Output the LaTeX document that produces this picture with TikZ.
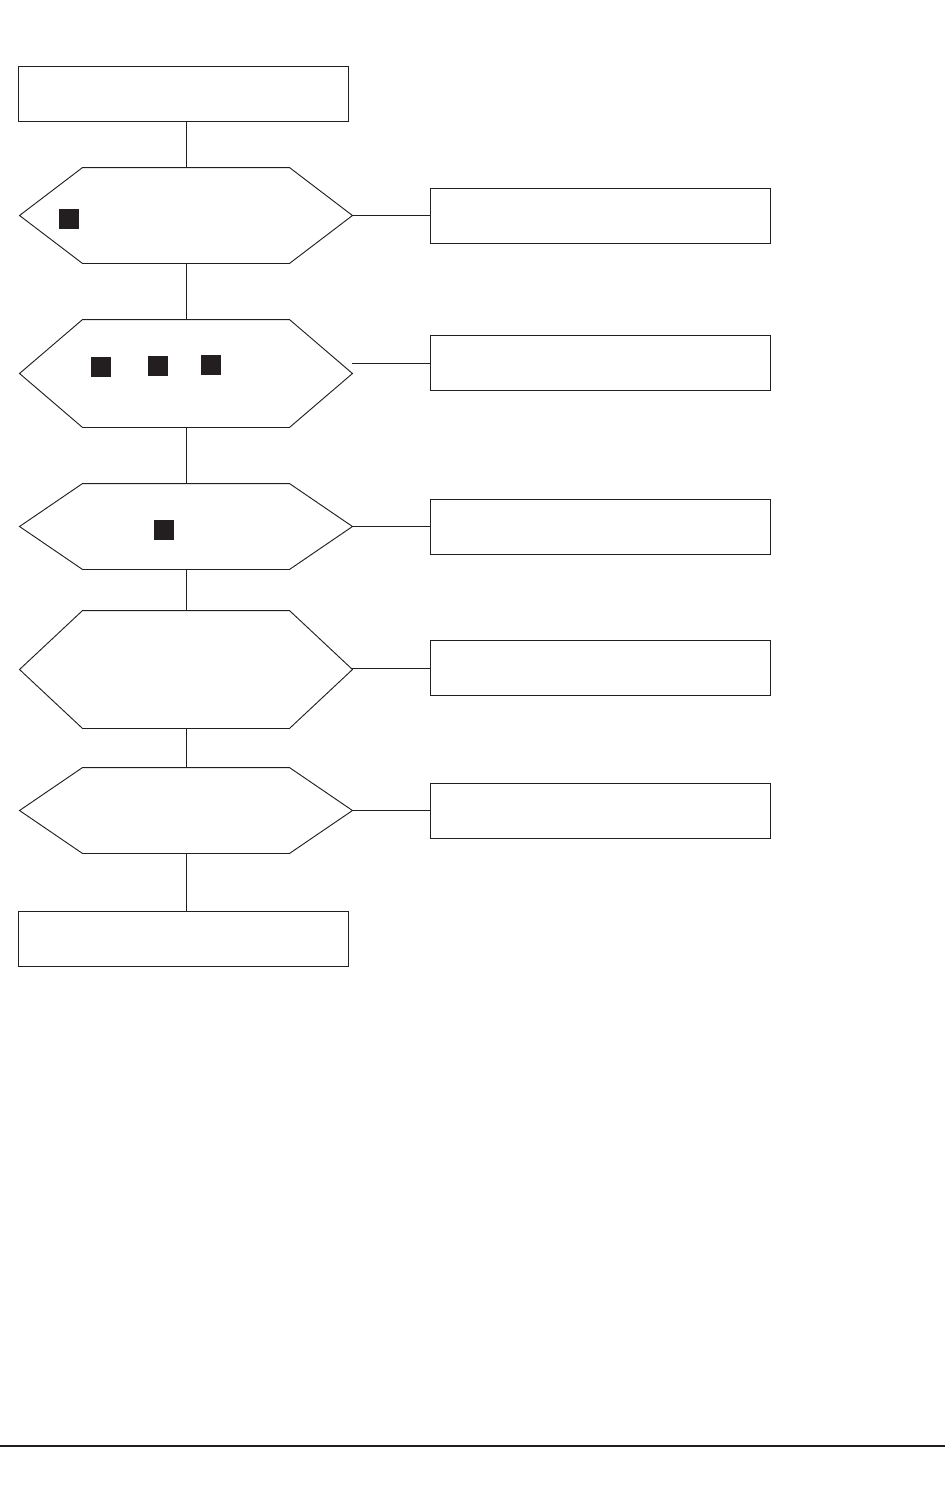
\documentclass[tikz,border=0pt]{standalone}
\usepackage{tikz}
\usetikzlibrary{positioning,calc}

\definecolor{ink}{RGB}{35,31,32}
\newcommand{\pxu}{0.03cm}

\begin{document}
\begin{tikzpicture}[x=\pxu, y=-\pxu, line width=0.8pt,
    stepbox/.style={draw=ink, inner sep=0pt, minimum width=330*\pxu, minimum height=55*\pxu},
    sidebox/.style={draw=ink, inner sep=0pt, minimum width=340*\pxu, minimum height=55*\pxu},
    hexbox/.style={inner sep=0pt, minimum width=332*\pxu},
    marksq/.style={fill=ink, inner sep=0pt, minimum size=20*\pxu}]
    \useasboundingbox (0,0) rectangle (945,1499);

    % Start and end boxes
    \node[stepbox] (start) at (183,93.5) {};
    \node[stepbox] (stop) at (183.5,939) {};

    % Hexagon frames (outline drawn below)
    \node[hexbox, minimum height=95*\pxu] (h1) at (186,215.5) {};
    \node[hexbox, minimum height=107*\pxu] (h2) at (186,373.5) {};
    \node[hexbox, minimum height=85*\pxu] (h3) at (186,526.5) {};
    \node[hexbox, minimum height=117*\pxu] (h4) at (186,669.5) {};
    \node[hexbox, minimum height=85*\pxu] (h5) at (186,810.5) {};
    \foreach \h in {h1,h2,h3,h4,h5} {
        \draw[ink] (\h.west) -- ($(\h.north west)+(63,0)$) -- ($(\h.north east)+(-63,0)$)
            -- (\h.east) -- ($(\h.south east)+(-63,0)$) -- ($(\h.south west)+(63,0)$) -- cycle;
    }

    % Side boxes
    \node[sidebox] (b1) at (600,215.5) {};
    \node[sidebox] (b2) at (600,363) {};
    \node[sidebox] (b3) at (600,526.5) {};
    \node[sidebox] (b4) at (600,668) {};
    \node[sidebox] (b5) at (600.5,810.5) {};

    % Filled marks
    \node[marksq] (m1) at (69,218.5) {};
    \node[marksq] (m2) at (101,367) {};
    \node[marksq] (m3) at (157.5,366) {};
    \node[marksq] (m4) at (211,364.5) {};
    \node[marksq] (m5) at (163.5,530) {};

    % Main line
    \draw[ink] (h1.north) -- (h1.north |- start.south);
    \draw[ink] (h1.south) -- (h2.north);
    \draw[ink] (h2.south) -- (h3.north);
    \draw[ink] (h3.south) -- (h4.north);
    \draw[ink] (h4.south) -- (h5.north);
    \draw[ink] (h5.south) -- (h5.south |- stop.north);

    % Branches
    \foreach \i in {1,...,5} {
        \draw[ink] (b\i.west) -- (b\i.west -| h\i.east);
    }

    % Page rule
    \draw[ink, line width=1.7pt] (0,1446) -- (945,1446);
\end{tikzpicture}
\end{document}
